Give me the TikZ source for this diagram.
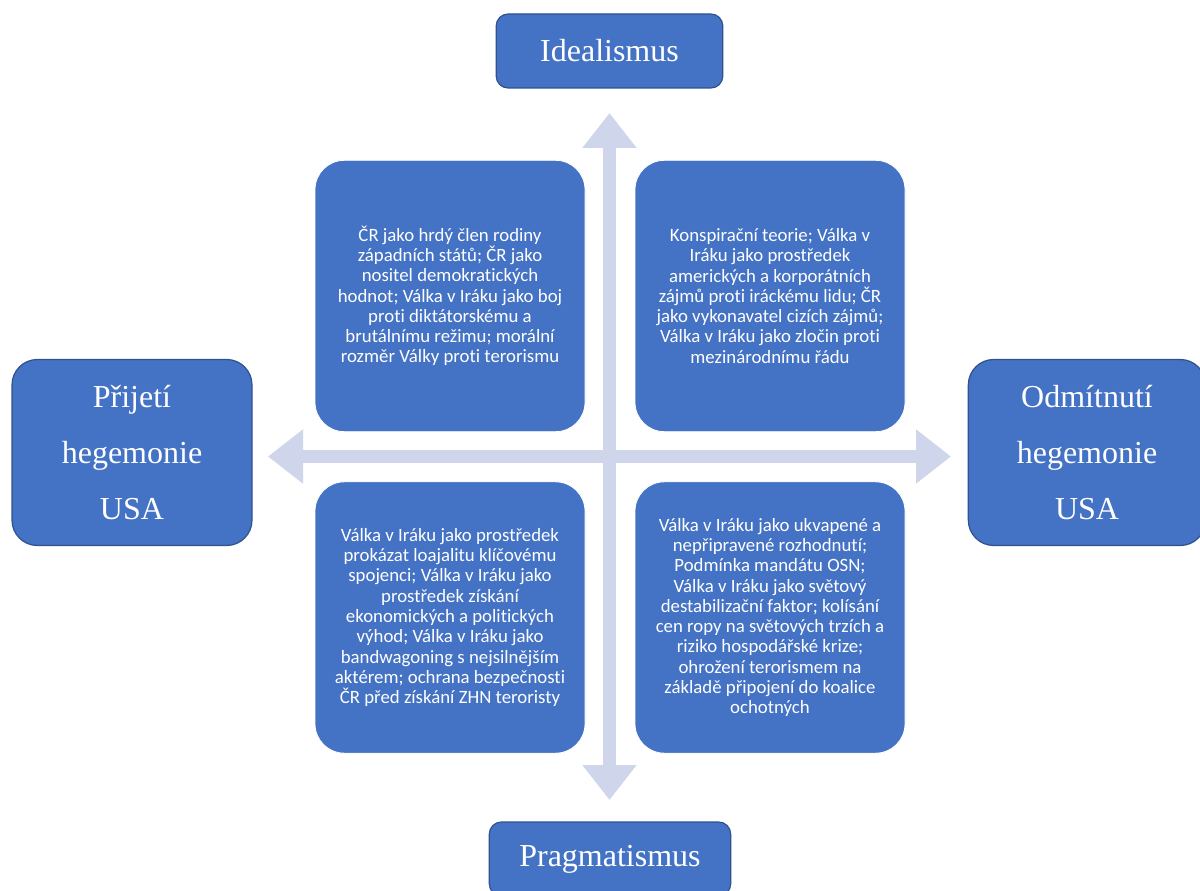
\documentclass[tikz,border=0pt]{standalone}
\usepackage{fontspec}
\setmainfont{Liberation Serif}
\newfontfamily\quadfont[Ligatures=NoCommon]{Carlito}
\usetikzlibrary{arrows.meta}
\definecolor{boxblue}{HTML}{4472C4}
\definecolor{boxedge}{HTML}{2F528F}
\definecolor{axislav}{HTML}{CFD5EA}
\tikzset{
    pole/.style={draw=boxedge, line width=0.9pt, fill=boxblue, text=white, rounded corners=#1, align=center, inner sep=0pt, font=\fontsize{24}{42}\selectfont},
    pole/.default={9pt},
    quad/.style={draw=white, line width=0.6pt, fill=boxblue, text=white, rounded corners=22pt, align=center, inner sep=0pt, minimum width=202.5pt, minimum height=203.5pt, font=\quadfont\fontsize{14.1}{15.2}\selectfont},
    axis/.style={draw=axislav, line width=9.75pt, {Triangle[width=39pt,length=26.25pt]}-{Triangle[width=39pt,length=26.25pt]}}
}

\begin{document}
\begin{tikzpicture}[x=0.75pt, y=-0.75pt]
    \useasboundingbox (0,0) rectangle (1200,891);
    \clip (0,0) rectangle (1200,891);
    \fill[white] (0,0) rectangle (1200,891);
    \coordinate (ntip) at (609.5,113); \coordinate (stip) at (609.5,800);
    \coordinate (wtip) at (268,456.5); \coordinate (etip) at (951,456.5);
    \draw[axis](ntip)--(stip); \draw[axis](wtip)--(etip);
    \node[pole, minimum width=170pt, minimum height=55.5pt](ideal) at (609.5,51){Idealismus};
    \node[pole, minimum width=181pt, minimum height=55.5pt](pragma) at (610,859){Pragmatismus};
    \node[pole=19pt, minimum width=180pt, minimum height=139.5pt](accept) at (132,452.5){Přijetí\\hegemonie\\USA};
    \node[pole=19pt, minimum width=178pt, minimum height=139.5pt](reject) at (1087,452.5){Odmítnutí\\hegemonie\\USA};
    \node[quad](idacc) at (450,296){ČR jako hrdý člen rodiny\\západních států; ČR jako\\nositel demokratických\\hodnot; Válka v Iráku jako boj\\proti diktátorskému a\\brutálnímu režimu; morální\\rozměr Války proti terorismu};
    \node[quad](idrej) at (770,296){Konspirační teorie; Válka v\\Iráku jako prostředek\\amerických a korporátních\\zájmů proti iráckému lidu; ČR\\jako vykonavatel cizích zájmů;\\Válka v Iráku jako zločin proti\\mezinárodnímu řádu};
    \node[quad](pracc) at (450,617.5){Válka v Iráku jako prostředek\\prokázat loajalitu klíčovému\\spojenci; Válka v Iráku jako\\prostředek získání\\ekonomických a politických\\výhod; Válka v Iráku jako\\bandwagoning s nejsilnějším\\aktérem; ochrana bezpečnosti\\ČR před získání ZHN teroristy};
    \node[quad](prrej) at (770,617.5){Válka v Iráku jako ukvapené a\\nepřipravené rozhodnutí;\\Podmínka mandátu OSN;\\Válka v Iráku jako světový\\destabilizační faktor; kolísání\\cen ropy na světových trzích a\\riziko hospodářské krize;\\ohrožení terorismem na\\základě připojení do koalice\\ochotných};
\end{tikzpicture}
\end{document}
